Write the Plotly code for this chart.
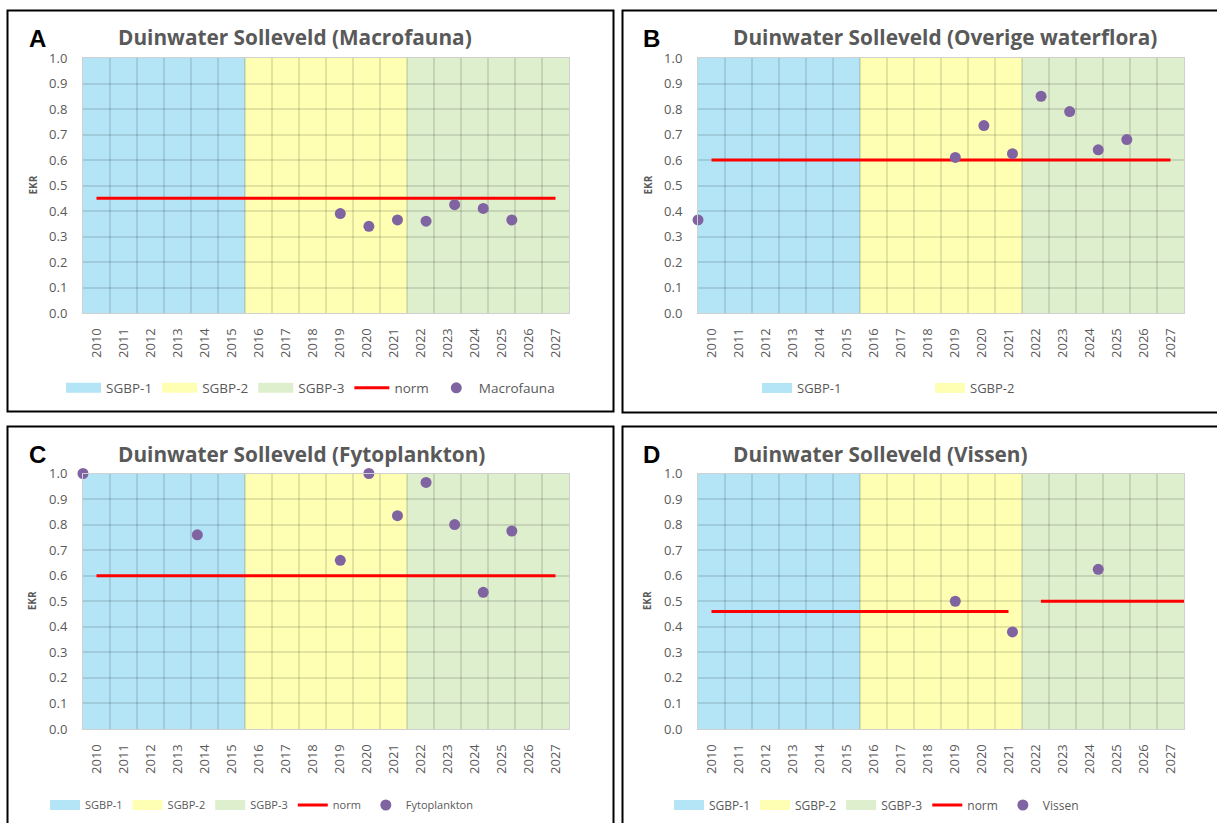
import plotly.graph_objects as go

# ---- data -------------------------------------------------------------
years = list(range(2010, 2028))
year_labels = [str(y) for y in years]
ekr_ticks = [0.0, 0.1, 0.2, 0.3, 0.4, 0.5, 0.6, 0.7, 0.8, 0.9, 1.0]

period_names = ["SGBP-1", "SGBP-2", "SGBP-3"]
period_start = [2010, 2016, 2022]
period_end = [2015, 2021, 2027]

macro_years = [2019, 2020, 2021, 2022, 2023, 2024, 2025]
macro_ekr = [0.39, 0.34, 0.365, 0.36, 0.425, 0.41, 0.365]
macro_norm_start = [2010]
macro_norm_end = [2027]
macro_norm = [0.45]

flora_years = [2010, 2019, 2020, 2021, 2022, 2023, 2024, 2025]
flora_ekr = [0.365, 0.61, 0.735, 0.625, 0.85, 0.79, 0.64, 0.68]
flora_norm_start = [2010]
flora_norm_end = [2027]
flora_norm = [0.60]

fyto_years = [2010, 2014, 2019, 2020, 2021, 2022, 2023, 2024, 2025]
fyto_ekr = [1.0, 0.76, 0.66, 1.0, 0.835, 0.965, 0.80, 0.535, 0.775]
fyto_norm_start = [2010]
fyto_norm_end = [2027]
fyto_norm = [0.60]

vis_years = [2019, 2021, 2024]
vis_ekr = [0.50, 0.38, 0.625]
vis_norm_start = [2010, 2022.2]
vis_norm_end = [2021, 2028]
vis_norm = [0.46, 0.50]

# ---- styling ----------------------------------------------------------
W, H = 1217, 823
FONT = "Open Sans, Calibri, sans-serif"
GREY = "#595959"
period_fill = ["#B3E5F6", "#FFFFB4", "#DEEFCD"]
GRID = "rgba(0,0,0,0.11)"
NORM_RED = "#FF0000"
DOT = "#8064A2"


def px(x):
    return x / W


def py(y):
    return 1 - y / H


panels = [
    dict(letter="A", name="Macrofauna", yrs=macro_years, ekr=macro_ekr,
         ns=macro_norm_start, ne=macro_norm_end, nv=macro_norm,
         box=(7.5, 10.5, 613.5, 411.5), plot=(83, 58, 569, 313),
         legend=dict(x=310.5, y=388, anchor="center", size=13.5, itemwidth=35),
         legend_items=["SGBP-1", "SGBP-2", "SGBP-3", "norm", "pts"]),
    dict(letter="B", name="Overige waterflora", yrs=flora_years, ekr=flora_ekr,
         ns=flora_norm_start, ne=flora_norm_end, nv=flora_norm,
         box=(622.5, 10.5, 1219, 412.5), plot=(698, 58, 1184, 313),
         legend=dict(x=757, y=388, anchor="left", size=13, entrywidth=128,
                     itemwidth=30),
         legend_items=["SGBP-1", "SGBP-2"]),
    dict(letter="C", name="Fytoplankton", yrs=fyto_years, ekr=fyto_ekr,
         ns=fyto_norm_start, ne=fyto_norm_end, nv=fyto_norm,
         box=(7.5, 426.5, 613.5, 826), plot=(83, 473.5, 569, 729),
         legend=dict(x=261.5, y=805, anchor="center", size=11, itemwidth=30),
         legend_items=["SGBP-1", "SGBP-2", "SGBP-3", "norm", "pts"]),
    dict(letter="D", name="Vissen", yrs=vis_years, ekr=vis_ekr,
         ns=vis_norm_start, ne=vis_norm_end, nv=vis_norm,
         box=(622.5, 426.5, 1219, 826), plot=(698, 473.5, 1184, 729),
         legend=dict(x=876.5, y=805, anchor="center", size=12, itemwidth=30),
         legend_items=["SGBP-1", "SGBP-2", "SGBP-3", "norm", "pts"]),
]

boundaries = [y - 0.5 for y in years] + [years[-1] + 0.5]

fig = go.Figure()
shapes = []
annotations = []
layout = {}

for i, p in enumerate(panels, start=1):
    sfx = "" if i == 1 else str(i)
    xa, ya = "x" + sfx, "y" + sfx
    xo = "x" + str(4 + i)  # overlay axis for the measurement dates
    leg = "legend" + sfx
    x0, y0, x1, y1 = p["plot"]

    layout["xaxis" + sfx] = dict(
        domain=[px(x0), px(x1)], anchor=ya, range=[2009.5, 2027.5],
        tickmode="array", tickvals=years, ticktext=year_labels, tickangle=-90,
        showgrid=False,
        minor=dict(tickmode="array", tickvals=boundaries, showgrid=True,
                   gridcolor=GRID, gridwidth=2, ticks=""),
        showline=True, mirror=True, linecolor="#D0D0D0", linewidth=1,
        ticks="", ticklabelstandoff=9, zeroline=False,
        tickfont=dict(family=FONT, size=13, color=GREY), fixedrange=True,
    )
    layout["yaxis" + sfx] = dict(
        domain=[py(y1), py(y0)], anchor=xa, range=[0, 1],
        tickmode="array", tickvals=ekr_ticks, tickformat=".1f",
        showgrid=True, gridcolor=GRID, gridwidth=2,
        showline=True, mirror=True, linecolor="#D0D0D0", linewidth=1,
        ticks="", ticklabelstandoff=12, zeroline=False,
        tickfont=dict(family=FONT, size=13, color=GREY), fixedrange=True,
    )
    layout["xaxis" + str(4 + i)] = dict(
        overlaying=xa, anchor=ya, range=[2010, 2027], visible=False,
        domain=[px(x0), px(x1)], fixedrange=True,
    )

    # period backgrounds, below the grid lines
    for s, e, c in zip(period_start, period_end, period_fill):
        shapes.append(dict(type="rect", xref=xa, yref=ya + " domain",
                           x0=s - 0.5, x1=e + 0.5, y0=0, y1=1,
                           fillcolor=c, line=dict(width=0), layer="below"))

    # legend entries for the periods
    for name, c in zip(period_names, period_fill):
        fig.add_trace(go.Scatter(
            x=[None], y=[None], mode="lines", name=name,
            line=dict(color=c, width=10), xaxis=xa, yaxis=ya, legend=leg,
            showlegend=name in p["legend_items"], hoverinfo="skip"))

    # norm line(s)
    nx, ny = [], []
    for s, e, v in zip(p["ns"], p["ne"], p["nv"]):
        nx += [s, e, None]
        ny += [v, v, None]
    fig.add_trace(go.Scatter(
        x=nx, y=ny, mode="lines", name="norm",
        line=dict(color=NORM_RED, width=3), xaxis=xa, yaxis=ya, legend=leg,
        showlegend="norm" in p["legend_items"]))

    # EKR measurements
    fig.add_trace(go.Scatter(
        x=p["yrs"], y=p["ekr"], mode="markers", name=p["name"],
        marker=dict(color=DOT, size=11), xaxis=xo, yaxis=ya, legend=leg,
        cliponaxis=False, showlegend="pts" in p["legend_items"]))

    lg = p["legend"]
    ld = dict(orientation="h", x=px(lg["x"]), y=py(lg["y"]),
              xanchor=lg["anchor"], yanchor="middle",
              font=dict(family=FONT, size=lg["size"], color=GREY),
              bgcolor="rgba(0,0,0,0)", itemwidth=lg["itemwidth"], itemclick=False,
              itemdoubleclick=False, tracegroupgap=0)
    if "entrywidth" in lg:
        ld["entrywidth"] = lg["entrywidth"]
        ld["entrywidthmode"] = "pixels"
    layout[leg] = ld

    # panel frame
    bx0, by0, bx1, by1 = p["box"]
    shapes.append(dict(type="rect", xref="paper", yref="paper",
                       x0=px(bx0), x1=px(bx1), y0=py(by1), y1=py(by0),
                       line=dict(color="black", width=2),
                       fillcolor="rgba(0,0,0,0)", layer="above"))

    # panel letter and title
    annotations.append(dict(text="<b>" + p["letter"] + "</b>", xref="paper", yref="paper",
                            x=px(bx0 + 19), y=py(by0 + 28), xanchor="left", yanchor="middle",
                            showarrow=False,
                            font=dict(family="Liberation Sans, Arial, sans-serif",
                                      size=24, color="black")))
    annotations.append(dict(text="<b>Duinwater Solleveld (" + p["name"] + ")</b>",
                            xref="paper", yref="paper",
                            x=px(x0 + 33), y=py(by0 + 27), xanchor="left", yanchor="middle",
                            showarrow=False,
                            font=dict(family=FONT, size=20.8, color=GREY)))
    annotations.append(dict(text="<b>EKR</b>", xref="paper", yref="paper",
                            x=px(x0 - 51), y=py((y0 + y1) / 2), xanchor="center",
                            yanchor="middle", textangle=-90, showarrow=False,
                            font=dict(family=FONT, size=10, color=GREY)))

fig.update_layout(
    width=W, height=H, margin=dict(l=0, r=0, t=0, b=0, autoexpand=False),
    paper_bgcolor="white", plot_bgcolor="white",
    shapes=shapes, annotations=annotations, **layout,
)

fig.write_html("out.html")
